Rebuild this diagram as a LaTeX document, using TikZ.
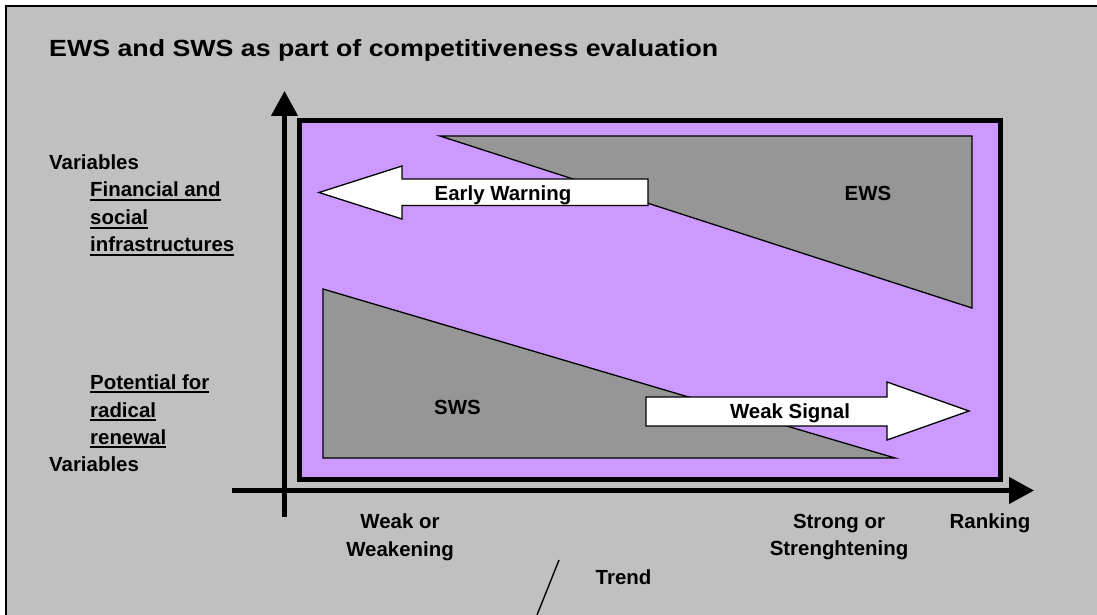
\documentclass[tikz,border=0pt]{standalone}
\usepackage{fontspec}
\setmainfont{Liberation Sans}
\usepackage{graphicx}
\usetikzlibrary{arrows.meta}
\definecolor{bggray}{RGB}{192,192,192}
\definecolor{lilac}{RGB}{204,153,255}
\definecolor{midgray}{RGB}{150,150,150}
\newcommand\myul[1]{\setbox0=\hbox{#1}\rlap{\rule[-4bp]{\wd0}{1.8bp}}\box0}
\begin{document}
\begin{tikzpicture}[x=1bp,y=-1bp,
  lbl/.style={font=\fontsize{20.5}{25}\selectfont\bfseries, inner sep=0pt, text=black},
  axis/.style={line width=4.5bp, -{Triangle[length=25bp,width=26bp]}},
  wedge/.style={fill=midgray, draw=black, line width=1.3bp, line join=miter},
  bigarrow/.style={fill=white, draw=black, line width=1.3bp, line join=miter}]
\useasboundingbox (0,0) rectangle (1097,615);
\clip (0,0) rectangle (1097,615);
\fill[white] (0,0) rectangle (1097,615);
% outer frame
\fill[bggray] (6,6) rectangle (1200,700);
\draw[line width=2.5bp] (6,6) rectangle (1200,700);
% purple panel
\draw[line width=5bp, fill=lilac] (299.5,120.5) rectangle (1000.5,479.5);
% EWS wedge
\path[wedge] (440,136) -- (972,136) -- (972,308) -- cycle;
% Early warning arrow
\path[bigarrow] (319,192.5) -- (402,166) -- (402,179) -- (648,179) -- (648,205.5) -- (402,205.5) -- (402,219) -- cycle;
% SWS wedge
\path[wedge] (323,289) -- (323,458) -- (895,458) -- cycle;
% Weak signal arrow
\path[bigarrow] (969,411) -- (887,440) -- (887,426) -- (646,426) -- (646,397) -- (887,397) -- (887,382) -- cycle;
% axes
\coordinate (yb) at (284.5,517);
\coordinate (yt) at (284.5,91);
\coordinate (xl) at (232,490.5);
\coordinate (xr) at (1034,490.5);
\draw[axis] (yb) -- (yt);
\draw[axis] (xl) -- (xr);
% trend line
\coordinate (t1) at (559,560);
\coordinate (t2) at (527,640);
\draw[line width=1.4bp] (t1) -- (t2);
% texts
\node[lbl, anchor=base west] (title) at (49,57) {\resizebox{669bp}{\height}{\fontsize{23.5}{28}\selectfont\bfseries EWS and SWS as part of competitiveness evaluation}};
\node[lbl, anchor=base west] (v1) at (49,170) {Variables};
\node[lbl, anchor=base west] (f1) at (90,197) {\myul{Financial and}};
\node[lbl, anchor=base west] (f2) at (90,225) {\myul{social}};
\node[lbl, anchor=base west] (f3) at (90,252) {\myul{infrastructures}};
\node[lbl, anchor=base west] (p1) at (90,389) {\myul{Potential for}};
\node[lbl, anchor=base west] (p2) at (90,417) {\myul{radical}};
\node[lbl, anchor=base west] (p3) at (90,444) {\myul{renewal}};
\node[lbl, anchor=base west] (v2) at (49,471) {Variables};
\node[lbl, anchor=base] (wk1) at (400,528) {Weak or};
\node[lbl, anchor=base] (wk2) at (400,556) {Weakening};
\node[lbl, anchor=base] (st1) at (839,528) {Strong or};
\node[lbl, anchor=base] (st2) at (839,555) {Strenghtening};
\node[lbl, anchor=base] (rk) at (990,528) {Ranking};
\node[lbl, anchor=base] (tr) at (623.5,584) {Trend};
\node[lbl, anchor=base] (ews) at (868,201) {EWS};
\node[lbl, anchor=base] (sws) at (457.5,414) {SWS};
\node[lbl, anchor=base] (ew) at (503,201) {Early Warning};
\node[lbl, anchor=base] (wsg) at (790,418) {Weak Signal};
\end{tikzpicture}
\end{document}
